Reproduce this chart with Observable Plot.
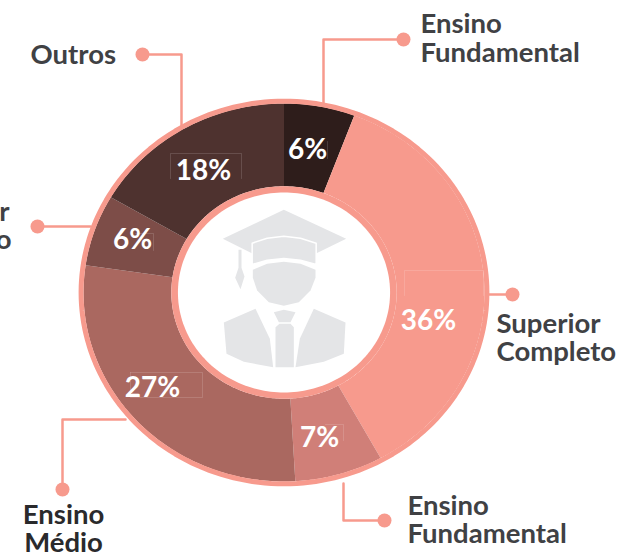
<!DOCTYPE html>
<html lang="pt">
<head>
<meta charset="utf-8">
<script src="https://cdn.jsdelivr.net/npm/d3@7"></script>
<script src="https://cdn.jsdelivr.net/npm/@observablehq/plot@0.6"></script>
<style>html,body{margin:0;padding:0;background:#fff;overflow:hidden}svg{display:block}</style>
</head>
<body>
<div id="chart"></div>
<script>
// --- chart values, clockwise from the top ---
const sliceNames = ["Ensino Fundamental", "Superior Completo", "Ensino Fundamental", "Ensino Médio", "Superior Incompleto", "Outros"];
const sliceLabels = ["6%", "36%", "7%", "27%", "6%", "18%"];
// sweep of each slice as measured on the picture (percent of the circle)
const sliceSweeps = [5.7, 36.3, 7.1, 28.2, 6.1, 16.6];
const sliceColors = ["#2E1D1B", "#F79A8D", "#D07F78", "#AA6860", "#7D4D48", "#4E322F"];

// --- layout of the drawing (page pixels) ---
const W = 620, H = 554;
const cx = 283.5, cy = 292, rx = 200.5, ry = 189;
const innerR = 0.562, holeR = 0.529, edgeR = 1.012;
const pink = "#F79A8D", grey = "#E4E5E7", ink = "#404144";
const X = (px) => (px - cx) / rx, Y = (py) => (cy - py) / ry;

const pctAnchors = [[307,150],[428,321],[319,438],[152,388],[132,240],[203,171]];
const leaderPaths = [
  [[403,39],[323,39],[323,103]],
  [[512,294],[486,294]],
  [[384,520],[343,520],[343,483]],
  [[62,489],[62,419],[125,419]],
  [[37,226],[90,226]],
  [[142,54],[181,54],[181,125]]
];
const nameLines = [
  {t:"Ensino", x:420, y:32, a:"start"}, {t:"Fundamental", x:420, y:61, a:"start"},
  {t:"Superior", x:496, y:332, a:"start"}, {t:"Completo", x:496, y:360, a:"start"},
  {t:"Ensino", x:407, y:514, a:"start"}, {t:"Fundamental", x:407, y:542, a:"start"},
  {t:"Ensino", x:63, y:523, a:"middle", dark:true}, {t:"Médio", x:63, y:551, a:"middle", dark:true},
  {t:"Superior", x:9, y:220, a:"end"}, {t:"Incompleto", x:11, y:248, a:"end"},
  {t:"Outros", x:30, y:63, a:"start"}
];
const frameLines = [
  [[170,178],[170,153],[241,153],[241,178]],
  [[130,372],[202,372],[202,397],[130,397],[130,372]],
  [[135,233],[153,233],[153,250]],
  [[404,295],[404,270],[483,270],[483,295]],
  [[327,141],[327,158]],
  [[325,424],[343,424],[343,440]]
];
// icon outlines, in 1/3 px relative to (200,190)
const iconShapes = [
  {c:grey, p:[[67,145],[250,58],[437,145],[345,190],[157,190]]},
  {c:grey, s:"#fff", p:[[155,158],[200,143],[250,137],[300,143],[347,158],[347,222],[300,209],[250,204],[200,209],[155,222]]},
  {c:grey, p:[[157,238],[200,220],[250,214],[300,220],[345,238],[345,262],[330,300],[295,335],[250,346],[205,335],[170,300],[157,262]]},
  {c:grey, p:[[114,178],[123,178],[123,232],[132,258],[120,296],[104,262],[114,232]]},
  {c:grey, p:[[165,355],[70,396],[78,490],[130,514],[218,530],[208,445]]},
  {c:grey, p:[[340,355],[435,396],[430,490],[370,514],[285,530],[298,445]]},
  {c:grey, p:[[220,365],[250,358],[285,365],[270,395],[235,395]]},
  {c:grey, p:[[237,400],[270,400],[280,410],[280,530],[225,530],[225,410]]}
];

// --- build outlines in unit-circle coordinates; the x/y scales do the rest ---
const STEP = 0.25; // percent per vertex
const polar = (pct, r) => { const a = pct / 100 * 2 * Math.PI; return {x: r * Math.sin(a), y: r * Math.cos(a)}; };
const wedges = [];
let from = 0;
sliceSweeps.forEach((sweep, i) => {
  const to = from + sweep, n = Math.ceil(sweep / STEP);
  const pcts = d3.range(n + 1).map((k) => from + (to - from) * k / n);
  pcts.forEach((p) => wedges.push({slice: i, ...polar(p, 1)}));
  pcts.slice().reverse().forEach((p) => wedges.push({slice: i, ...polar(p, innerR)}));
  from = to;
});
const circle = (r) => d3.range(0, 100.001, 0.5).map((p) => polar(p, r));
const toUnit = (pts) => pts.map(([x, y]) => ({x: X(x), y: Y(y)}));
const pathRows = (paths) => paths.flatMap((p, i) => toUnit(p).map((d) => ({...d, path: i})));
const iconRows = iconShapes.flatMap((sh, i) =>
  toUnit(sh.p.map(([x, y]) => [200 + x / 3, 190 + y / 3])).map((d) => ({...d, shape: i, c: sh.c, s: sh.s || "none"})));

const nameMark = (anchor) => Plot.text(
  nameLines.filter((d) => d.a === anchor).map((d) => ({...d, x: X(d.x), y: Y(d.y)})), {
    x: "x", y: "y", text: "t", fill: (d) => d.dark ? "#2A2A2C" : ink, fontSize: 27.5, fontWeight: 700, fontFamily: "Lato",
    textAnchor: anchor, lineAnchor: "bottom"
  });

const chart = Plot.plot({
  width: W, height: H, margin: 0,
  style: {background: "transparent", overflow: "hidden"},
  x: {domain: [-1, 1], range: [cx - rx, cx + rx], axis: null},
  y: {domain: [-1, 1], range: [cy + ry, cy - ry], axis: null},
  color: {type: "ordinal", domain: d3.range(sliceNames.length), range: sliceColors},
  marks: [
    Plot.line(wedges, {x: "x", y: "y", z: "slice", fill: "slice", stroke: "none", curve: "linear-closed", title: (d) => sliceNames[d.slice]}),
    Plot.line(circle(edgeR), {x: "x", y: "y", stroke: pink, strokeWidth: 5, curve: "linear-closed"}),
    Plot.line(circle(innerR), {x: "x", y: "y", fill: pink, stroke: "none", curve: "linear-closed"}),
    Plot.line(circle(holeR), {x: "x", y: "y", fill: "#fff", stroke: "none", curve: "linear-closed"}),
    Plot.line(iconRows, {x: "x", y: "y", z: "shape", fill: "c", stroke: "s", strokeWidth: 1.5, curve: "linear-closed"}),
    Plot.line(pathRows(frameLines), {x: "x", y: "y", z: "path", stroke: "#fff", strokeOpacity: 0.14, strokeWidth: 1}),
    Plot.line(pathRows(leaderPaths), {x: "x", y: "y", z: "path", stroke: pink, strokeWidth: 2.5}),
    Plot.dot(leaderPaths.map((p) => ({x: X(p[0][0]), y: Y(p[0][1])})), {x: "x", y: "y", r: 7, fill: pink}),
    Plot.text(sliceLabels.map((t, i) => ({t, x: X(pctAnchors[i][0]), y: Y(pctAnchors[i][1])})), {
      x: "x", y: "y", text: "t", fill: "#fff", fontSize: 28, fontWeight: 700, fontFamily: "Lato", textAnchor: "middle", lineAnchor: "middle"
    }),
    nameMark("start"), nameMark("middle"), nameMark("end")
  ]
});
document.getElementById("chart").append(chart);
</script>
</body>
</html>
